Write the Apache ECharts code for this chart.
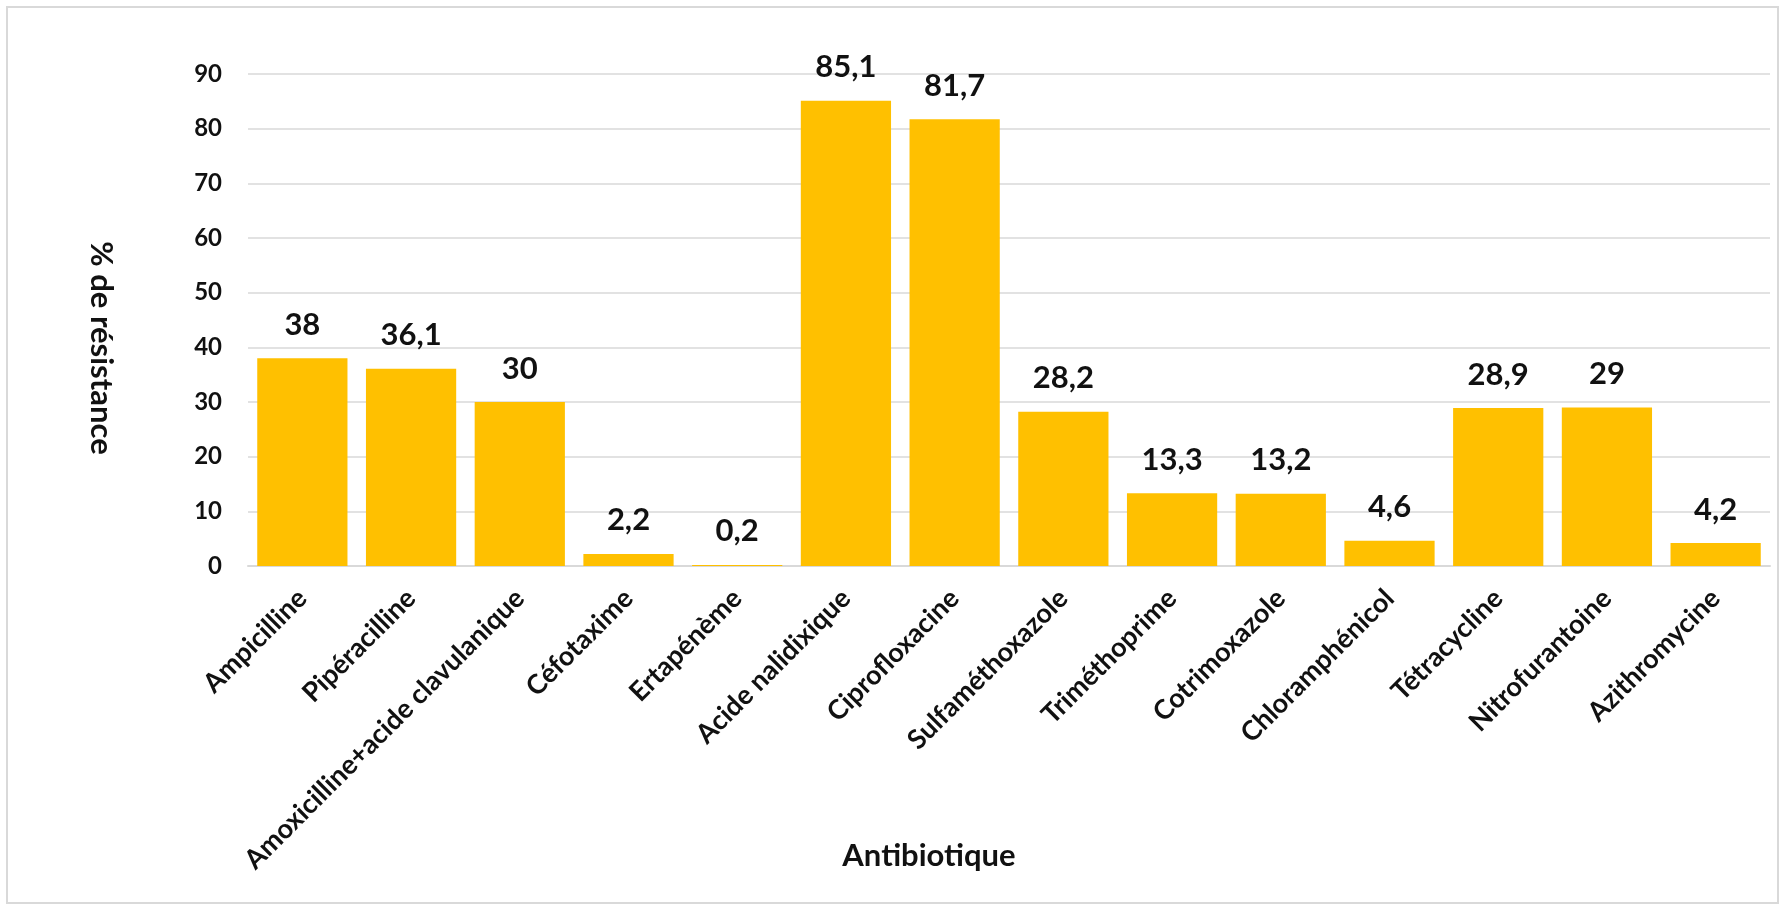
<!DOCTYPE html>
<html>
<head>
<meta charset="utf-8">
<title>% de résistance par antibiotique</title>
<script src="https://cdn.jsdelivr.net/npm/echarts@6/dist/echarts.min.js"></script>
<style>
  html, body { margin: 0; padding: 0; background: #fff; }
  #frame {
    position: absolute; left: 6px; top: 6px; width: 1773px; height: 898px;
    border: 2px solid #d9d9d9; box-sizing: border-box;
  }
  #chart { position: absolute; left: 0; top: 0; width: 1783px; height: 910px; }
</style>
</head>
<body>
<div id="frame"></div>
<div id="chart"></div>
<script>
const antibiotiques = [
  'Ampicilline', 'Pipéracilline', 'Amoxicilline+acide clavulanique', 'Céfotaxime',
  'Ertapénème', 'Acide nalidixique', 'Ciprofloxacine', 'Sulfaméthoxazole',
  'Triméthoprime', 'Cotrimoxazole', 'Chloramphénicol', 'Tétracycline',
  'Nitrofurantoine', 'Azithromycine'
];
const resistance = [38, 36.1, 30, 2.2, 0.2, 85.1, 81.7, 28.2, 13.3, 13.2, 4.6, 28.9, 29, 4.2];

const FONT = 'Lato, "Open Sans", sans-serif';
const chart = echarts.init(document.getElementById('chart'));

// virgule décimale comme dans le graphique d'origine
const fmt = v => String(v).replace('.', ',');

chart.setOption({
  animation: false,
  grid: { left: 248, right: 13, top: 74, bottom: 344, outerBoundsMode: 'none' },
  xAxis: {
    type: 'category',
    data: antibiotiques,
    name: 'Antibiotique',
    nameLocation: 'middle',
    nameGap: 274,
    nameMoveOverlap: false,
    nameTextStyle: { fontFamily: FONT, fontWeight: 'bold', fontSize: 31, color: '#111', padding: [0, 160, 0, 0] },
    axisLine: { lineStyle: { color: '#d9d9d9', width: 2 } },
    axisTick: { show: false },
    axisLabel: {
      rotate: 45, interval: 0, margin: 28,
      fontFamily: FONT, fontWeight: 'bold', fontSize: 27, color: '#111'
    }
  },
  yAxis: {
    type: 'value',
    min: 0, max: 90, interval: 10,
    name: '% de résistance',
    nameLocation: 'middle',
    nameRotate: -90,
    nameGap: 132,
    nameMoveOverlap: false,
    nameTextStyle: { fontFamily: FONT, fontWeight: 'bold', fontSize: 31, color: '#111', padding: [0, 0, 0, 56] },
    axisLine: { show: false },
    axisTick: { show: false },
    splitLine: { lineStyle: { color: '#d9d9d9', width: 1.5 } },
    axisLabel: { margin: 26, fontFamily: FONT, fontWeight: 'bold', fontSize: 24, color: '#111' }
  },
  series: [{
    type: 'bar',
    data: resistance,
    barCategoryGap: '17%',
    itemStyle: { color: '#ffc000' },
    label: {
      show: true, position: 'top', distance: 18,
      fontFamily: FONT, fontWeight: 'bold', fontSize: 31, color: '#111',
      formatter: p => fmt(p.value)
    }
  }]
});
</script>
</body>
</html>
